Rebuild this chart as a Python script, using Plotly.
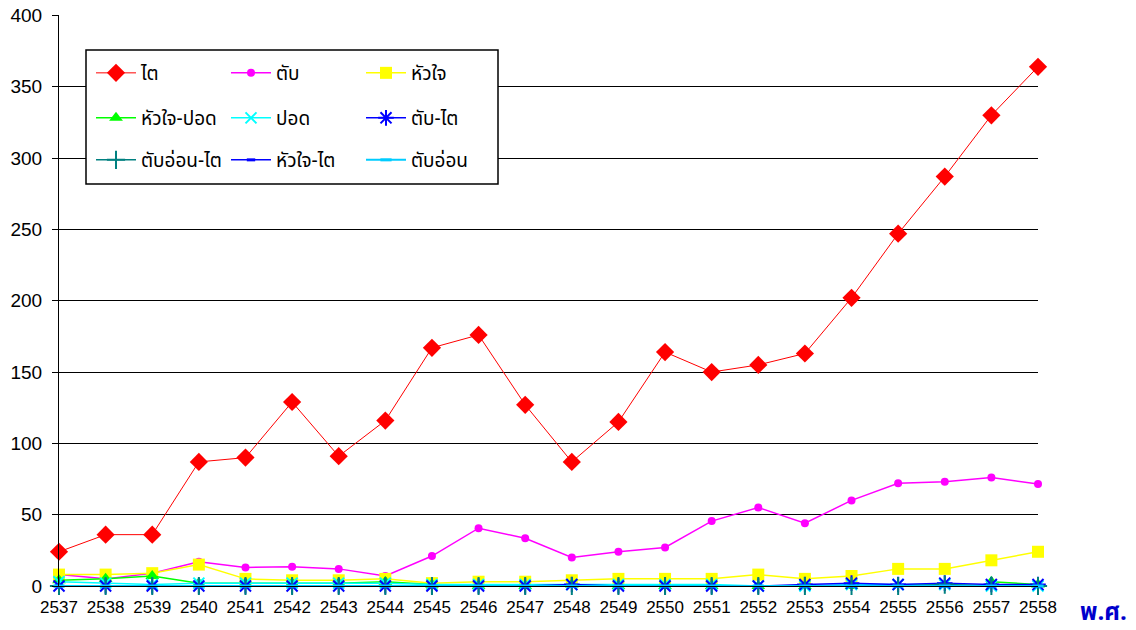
import plotly.graph_objects as go

years = list(range(2537, 2559))

kidney = [24, 36, 36, 87, 90, 129, 91, 116, 167, 176, 127, 87, 115, 164, 150, 155, 163, 202, 247, 287, 330, 364]
liver = [8, 5, 9, 17, 13, 13.5, 12, 7, 21, 40.5, 33.5, 20, 24, 27, 45.5, 55, 44, 60, 72, 73, 76, 71.5]
heart = [8, 8, 9, 15, 5, 4, 4, 5, 2, 3, 3, 4, 5, 5, 5, 8, 5, 7, 12, 12, 18, 24]
heart_lung = [4, 5, 7, 2, 2, 2, 2, 3, 1, 0, 0, 1, 0, 0, 0, 0, 0, 0, None, None, 3, 1]
lung = [3, 2, 1, 2, 2, 2, 2, 2, 1, 1, 1, 1, 1, 1, 1, 0, 0, 1, 1, 1, 0, 0]
liver_kidney = [0, 0, 0, 0, 0, 0, 0, 0, 0, 0, 0, 1, 0, 0, 0, 0, 1, 2, 1, 2, 1, 1]
pancreas_kidney = [0, 0, 0, 0, 0, 0, 0, 0, 0, 0, 0, 0, 0, 0, 0, 0, 0, 0, 0, 1, 0, 0]
heart_kidney = [0, 0, 0, 0, 0, 0, 0, 0, 0, 0, 0, 0, 0, 0, 0, 0, 0, 0, 0, 0, 0, 0]
pancreas = [0, 0, 0, 0, 0, 0, 0, 0, 0, 0, 0, 0, 0, 0, 0, 0, 0, 0, 0, 0, 0, 0]

series = [
    ("ไต", kidney, "#FF0000", "diamond", 14, 1, "legend"),
    ("ตับ", liver, "#FF00FF", "circle", 8, 1.5, "legend"),
    ("หัวใจ", heart, "#FFFF00", "square", 12, 1.5, "legend"),
    ("หัวใจ-ปอด", heart_lung, "#00FF00", "triangle-up", 12, 1.5, "legend2"),
    ("ปอด", lung, "#00FFFF", "x-thin-open", 11, 1.5, "legend2"),
    ("ตับ-ไต", liver_kidney, "#0000FF", "asterisk-open", 13, 1.5, "legend2"),
    ("ตับอ่อน-ไต", pancreas_kidney, "#008080", "cross-thin-open", 13, 1.5, "legend3"),
    ("หัวใจ-ไต", heart_kidney, "#0000FF", "line-ew-open", 6, 1.5, "legend3"),
    ("ตับอ่อน", pancreas, "#00CCFF", "line-ew-open", 8, 2, "legend3"),
]

THAI = "Noto Sans Thai, Tahoma, Noto Sans, sans-serif"

fig = go.Figure()
for name, vals, color, sym, size, lw, lg in series:
    if sym.startswith("line"):
        mline = dict(color=color, width=3)
    elif sym.endswith("open"):
        mline = dict(color=color, width=2)
    else:
        mline = dict(width=0)
    fig.add_trace(go.Scatter(
        x=years, y=vals, name=name, mode="lines+markers",
        line=dict(color=color, width=lw),
        marker=dict(symbol=sym, size=size, color=color, line=mline),
        cliponaxis=False, legend=lg, connectgaps=False,
    ))

# page offset (browser body margin)
OFF = 8
W, H = 1136 - OFF, 630 - OFF
L, R, T, B = 59 - OFF, 1136 - 1038, 15 - OFF, 630 - 586
pw, ph = W - L - R, H - T - B


def px_x(p):
    return (p - OFF - L) / pw


def px_y(p):
    return (H - B - (p - OFF)) / ph


legend_common = dict(
    orientation="h", xanchor="left", yanchor="middle",
    x=px_x(91), bgcolor="rgba(0,0,0,0)", borderwidth=0,
    itemwidth=40, entrywidth=80, entrywidthmode="pixels",
    font=dict(family=THAI, size=19, color="#000000"),
)

fig.update_layout(
    width=W, height=H,
    margin=dict(l=L, r=R, t=T, b=B, autoexpand=False),
    paper_bgcolor="white", plot_bgcolor="white",
    showlegend=True,
    legend=dict(**legend_common, y=px_y(73)),
    legend2=dict(**legend_common, y=px_y(118)),
    legend3=dict(**legend_common, y=px_y(160)),
    xaxis=dict(
        range=[2537, 2558], tickmode="array", tickvals=years,
        ticktext=[str(y) for y in years], showgrid=False, automargin=False,
        showline=True, linecolor="black", linewidth=1, zeroline=False,
        ticks="", ticklabelstandoff=6, ticklabeloverflow="allow",
        tickfont=dict(family="Liberation Sans Narrow, Arial Narrow, sans-serif", size=17, color="black"),
    ),
    yaxis=dict(
        range=[0, 400.3], tickmode="array", tickvals=list(range(0, 401, 50)),
        showgrid=True, gridcolor="black", gridwidth=1, automargin=False,
        showline=True, linecolor="black", linewidth=1, zeroline=False,
        ticks="outside", ticklen=6, tickcolor="black", ticklabelstandoff=6,
        ticklabeloverflow="allow",
        tickfont=dict(family="Liberation Sans, Arial, sans-serif", size=19, color="black"),
    ),
    shapes=[dict(
        type="rect", xref="paper", yref="paper",
        x0=px_x(86), x1=px_x(498), y0=px_y(184), y1=px_y(50),
        line=dict(color="black", width=1.5), fillcolor="white", layer="above",
    )],
    annotations=[dict(
        text="<b>พ.ศ.</b>", xref="paper", yref="paper",
        x=px_x(1103), y=px_y(613), xanchor="center", yanchor="middle",
        showarrow=False, font=dict(family=THAI, size=24, color="#0000CC"),
    )],
)

fig.write_html("out.html")
